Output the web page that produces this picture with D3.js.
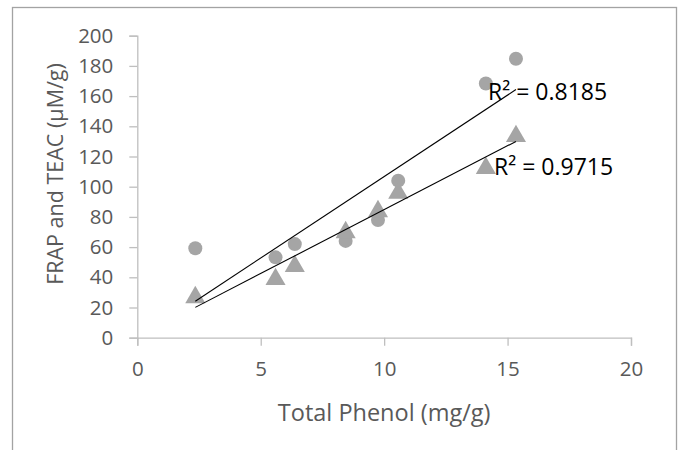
<!DOCTYPE html>
<html>
<head>
<meta charset="utf-8">
<script src="https://cdn.jsdelivr.net/npm/d3@7/dist/d3.min.js"></script>
<style>
  html, body { margin: 0; padding: 0; background: #fff; }
  svg { display: block; }
  text { font-family: "Open Sans", "Liberation Sans", sans-serif; }
</style>
</head>
<body>
<svg id="chart" width="683" height="450"></svg>
<script>
// Total phenol content of each sample (mg/g)
const totalPhenol = [2.35, 5.6, 6.38, 8.44, 9.75, 10.57, 14.12, 15.34];
// Antioxidant capacity (µM/g) – circle series
const frapValues = [59.2, 53.2, 62.0, 64.1, 77.9, 104, 168.3, 184.7];
// Antioxidant capacity (µM/g) – triangle series
const teacValues = [27.7, 39.7, 48.3, 70.7, 84.6, 96.8, 113.3, 134.4];
// Axis ticks and labels
const xTicks = [0, 5, 10, 15, 20];
const yTicks = [0, 20, 40, 60, 80, 100, 120, 140, 160, 180, 200];
const r2Labels = ["R² = 0.8185", "R² = 0.9715"];
const xTitle = "Total Phenol (mg/g)";
const yTitle = "FRAP and TEAC (µM/g)";

const svg = d3.select("#chart");

// Outer chart frame
svg.append("rect")
  .attr("x", 12.5).attr("y", 7.5)
  .attr("width", 664).attr("height", 460)
  .attr("fill", "#fff")
  .attr("stroke", "#a3a3a3")
  .attr("stroke-width", 1.3);

const x = d3.scaleLinear().domain([0, 20]).range([137.3, 631]);
const y = d3.scaleLinear().domain([0, 200]).range([337.7, 35.7]);

const axisColor = "#bfbfbf";
const labelColor = "#595959";

// Y axis
const yAxis = svg.append("g")
  .attr("transform", `translate(${x(0)},0)`)
  .call(d3.axisLeft(y).tickValues(yTicks).tickSize(8).tickPadding(16));
yAxis.select(".domain").attr("stroke", axisColor).attr("stroke-width", 1.3);
yAxis.selectAll(".tick line").attr("stroke", axisColor).attr("stroke-width", 1.3);
yAxis.selectAll(".tick text")
  .attr("fill", labelColor)
  .style("font-size", "20.5px")
  .style("font-family", "'Open Sans', sans-serif");

// X axis
const xAxis = svg.append("g")
  .attr("transform", `translate(0,${y(0)})`)
  .call(d3.axisBottom(x).tickValues(xTicks).tickSize(8).tickPadding(16));
xAxis.select(".domain").attr("stroke", axisColor).attr("stroke-width", 1.3);
xAxis.selectAll(".tick line").attr("stroke", axisColor).attr("stroke-width", 1.3);
xAxis.selectAll(".tick text")
  .attr("fill", labelColor)
  .style("font-size", "20.5px")
  .style("font-family", "'Open Sans', sans-serif");

// Axis titles
svg.append("text")
  .attr("x", (x(0) + x(20)) / 2)
  .attr("y", 421)
  .attr("text-anchor", "middle")
  .attr("fill", labelColor)
  .style("font-size", "23.5px")
  .text(xTitle);

svg.append("text")
  .attr("transform", "translate(63,174) rotate(-90)")
  .attr("text-anchor", "middle")
  .attr("fill", labelColor)
  .style("font-size", "21.5px")
  .text(yTitle);

// Least-squares line through a series
function fit(xs, ys) {
  const mx = d3.mean(xs), my = d3.mean(ys);
  let sxy = 0, sxx = 0;
  xs.forEach((v, i) => { sxy += (v - mx) * (ys[i] - my); sxx += (v - mx) * (v - mx); });
  const slope = sxy / sxx;
  return { slope, intercept: my - slope * mx };
}

const markerColor = "#a5a5a5";
const frapPts = totalPhenol.map((v, i) => [v, frapValues[i]]);
const teacPts = totalPhenol.map((v, i) => [v, teacValues[i]]);

// Circle markers
svg.append("g").selectAll("circle")
  .data(frapPts).join("circle")
  .attr("cx", d => x(d[0]))
  .attr("cy", d => y(d[1]))
  .attr("r", 7)
  .attr("fill", markerColor);

// Triangle markers
const tri = d3.symbol().type(d3.symbolTriangle).size(175);
svg.append("g").selectAll("path")
  .data(teacPts).join("path")
  .attr("d", tri)
  .attr("transform", d => `translate(${x(d[0])},${y(d[1]) + 1.5})`)
  .attr("fill", markerColor);

// Trend lines
const xMin = d3.min(totalPhenol), xMax = d3.max(totalPhenol);
[frapValues, teacValues].forEach(vals => {
  const f = fit(totalPhenol, vals);
  svg.append("line")
    .attr("x1", x(xMin)).attr("y1", y(f.intercept + f.slope * xMin))
    .attr("x2", x(xMax)).attr("y2", y(f.intercept + f.slope * xMax))
    .attr("stroke", "#000")
    .attr("stroke-width", 1.1);
});

// R² labels
svg.append("text")
  .attr("x", 488).attr("y", 100)
  .attr("fill", "#000")
  .style("font-size", "23px")
  .text(r2Labels[0]);
svg.append("text")
  .attr("x", 494).attr("y", 175)
  .attr("fill", "#000")
  .style("font-size", "23px")
  .text(r2Labels[1]);
</script>
</body>
</html>
